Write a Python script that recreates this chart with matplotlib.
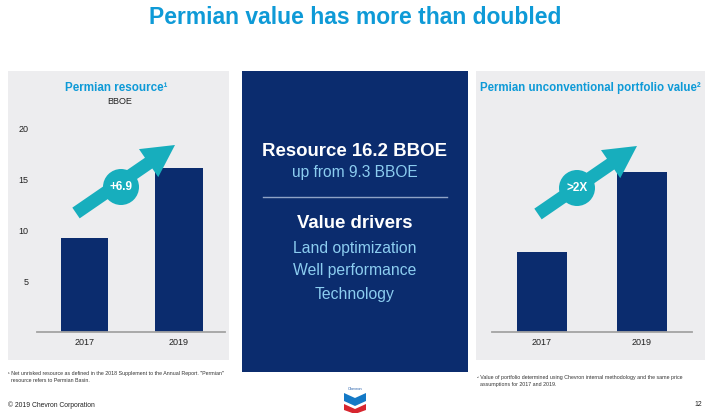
import matplotlib
matplotlib.use('Agg')
import matplotlib.pyplot as plt
from matplotlib.patches import Rectangle, Circle, FancyArrow, Polygon

plt.rcParams['font.family'] = ['Liberation Sans', 'DejaVu Sans']

# data
years = ['2017', '2019']
resource_bboe = [9.3, 16.2]
portfolio_value = [7.9, 15.8]      # no scale shown, relative heights only
y_ticks = [5, 10, 15, 20]

BLUE = '#0E9AD7'
NAVY = '#0B2C6E'
TEAL = '#17AEBD'
LIGHT = '#8CCDF0'
PANEL = '#EDEDEF'

W, H = 710, 413
fig = plt.figure(figsize=(W / 100, H / 100), dpi=100)


def px_axes(x0, y0, x1, y1, **kw):
    # axes from pixel box (top-left origin)
    return fig.add_axes([x0 / W, 1 - y1 / H, (x1 - x0) / W, (y1 - y0) / H], **kw)


# background layer in pixel coords
bg = px_axes(0, 0, W, H, zorder=0)
bg.set_xlim(0, W)
bg.set_ylim(H, 0)
bg.axis('off')

bg.add_patch(Rectangle((8, 71), 221, 289, color=PANEL, lw=0))
bg.add_patch(Rectangle((476, 71), 229, 289, color=PANEL, lw=0))
bg.add_patch(Rectangle((242, 71), 226, 301, color=NAVY, lw=0))

bg.text(355, 17, 'Permian value has more than doubled', color=BLUE, fontsize=16.5,
        fontweight='bold', ha='center', va='center')

bg.text(116, 88, 'Permian resource¹', color=BLUE, fontsize=8.4, fontweight='bold',
        ha='center', va='center')
bg.text(120, 101, 'BBOE', color='#222222', fontsize=6.5, ha='center', va='center')
bg.text(590, 88, 'Permian unconventional portfolio value²', color=BLUE, fontsize=8.3,
        fontweight='bold', ha='center', va='center')

# middle panel
bg.text(355, 152, 'Resource 16.2 BBOE', color='white', fontsize=13.4, fontweight='bold',
        ha='center', va='center')
bg.text(355, 173, 'up from 9.3 BBOE', color=LIGHT, fontsize=11.2, ha='center', va='center')
bg.plot([263, 447], [197, 197], color='#8FA3C6', lw=1)
bg.text(355, 223, 'Value drivers', color='white', fontsize=13.4, fontweight='bold',
        ha='center', va='center')
for txt, y in zip(['Land optimization', 'Well performance', 'Technology'], [248, 271, 294]):
    bg.text(355, y, txt, color=LIGHT, fontsize=11.3, ha='center', va='center')

# footnotes
bg.text(8, 377, '¹ Net unrisked resource as defined in the 2018 Supplement to the Annual Report. "Permian"\n'
        '  resource refers to Permian Basin.', fontsize=3.8, color='#333333',
        ha='left', va='center', linespacing=1.5)
bg.text(477, 381, '² Value of portfolio determined using Chevron internal methodology and the same price\n'
        '  assumptions for 2017 and 2019.', fontsize=3.8, color='#333333',
        ha='left', va='center', linespacing=1.5)
bg.text(8, 405, '© 2019 Chevron Corporation', fontsize=4.9, color='#222222', ha='left', va='center')
bg.text(702, 405, '12', fontsize=4.9, color='#222222', ha='right', va='center')

# logo
bg.text(355, 389, 'Chevron', fontsize=2.8, color='#1E5AA8', ha='center', va='center')
bg.add_patch(Polygon([(344, 393), (355, 398), (366, 393), (366, 401), (355, 406), (344, 401)],
                     color='#1479C6', lw=0))
bg.add_patch(Polygon([(344, 404), (355, 409), (366, 404), (366, 410), (355, 414), (344, 410)],
                     color='#D7262F', lw=0))


def bar_chart(ax, values, xlim, show_y):
    ax.bar(range(len(years)), values, width=0.5, color=NAVY, zorder=2)
    ax.set_xlim(*xlim)
    ax.set_ylim(0, 20)
    ax.set_xticks(range(len(years)))
    ax.set_xticklabels(years)
    ax.patch.set_alpha(0)
    for s in ['top', 'right', 'left']:
        ax.spines[s].set_visible(False)
    ax.spines['bottom'].set_color('#A3A3A3')
    ax.spines['bottom'].set_linewidth(1.3)
    ax.tick_params(axis='x', length=0, pad=4, labelsize=6.5, labelcolor='#222222')
    if show_y:
        ax.set_yticks(y_ticks)
        ax.tick_params(axis='y', length=0, pad=6, labelsize=6.5, labelcolor='#222222')
    else:
        ax.set_yticks([])


ax1 = px_axes(37, 129, 225, 332, zorder=1)
bar_chart(ax1, resource_bboe, (-0.503, 1.487), True)
ax2 = px_axes(492, 129, 692, 332, zorder=1)
bar_chart(ax2, portfolio_value, (-0.5, 1.5), False)

# arrows on top
ov = px_axes(0, 0, W, H, zorder=3)
ov.set_xlim(0, W)
ov.set_ylim(H, 0)
ov.axis('off')


def growth_arrow(x0, y0, x1, y1, cx, cy, label):
    ov.add_patch(FancyArrow(x0, y0, x1 - x0, y1 - y0, width=13, head_width=34, head_length=32,
                            length_includes_head=True, color=TEAL, lw=0))
    ov.add_patch(Circle((cx, cy), 18, color=TEAL, lw=0))
    ov.text(cx, cy, label, color='white', fontsize=8.5, fontweight='bold', ha='center', va='center')


growth_arrow(76, 213, 175, 145, 121, 187, '+6.9')
growth_arrow(538, 214, 637, 146, 577, 188, '>2X')

fig.savefig('out.png', dpi=100)
